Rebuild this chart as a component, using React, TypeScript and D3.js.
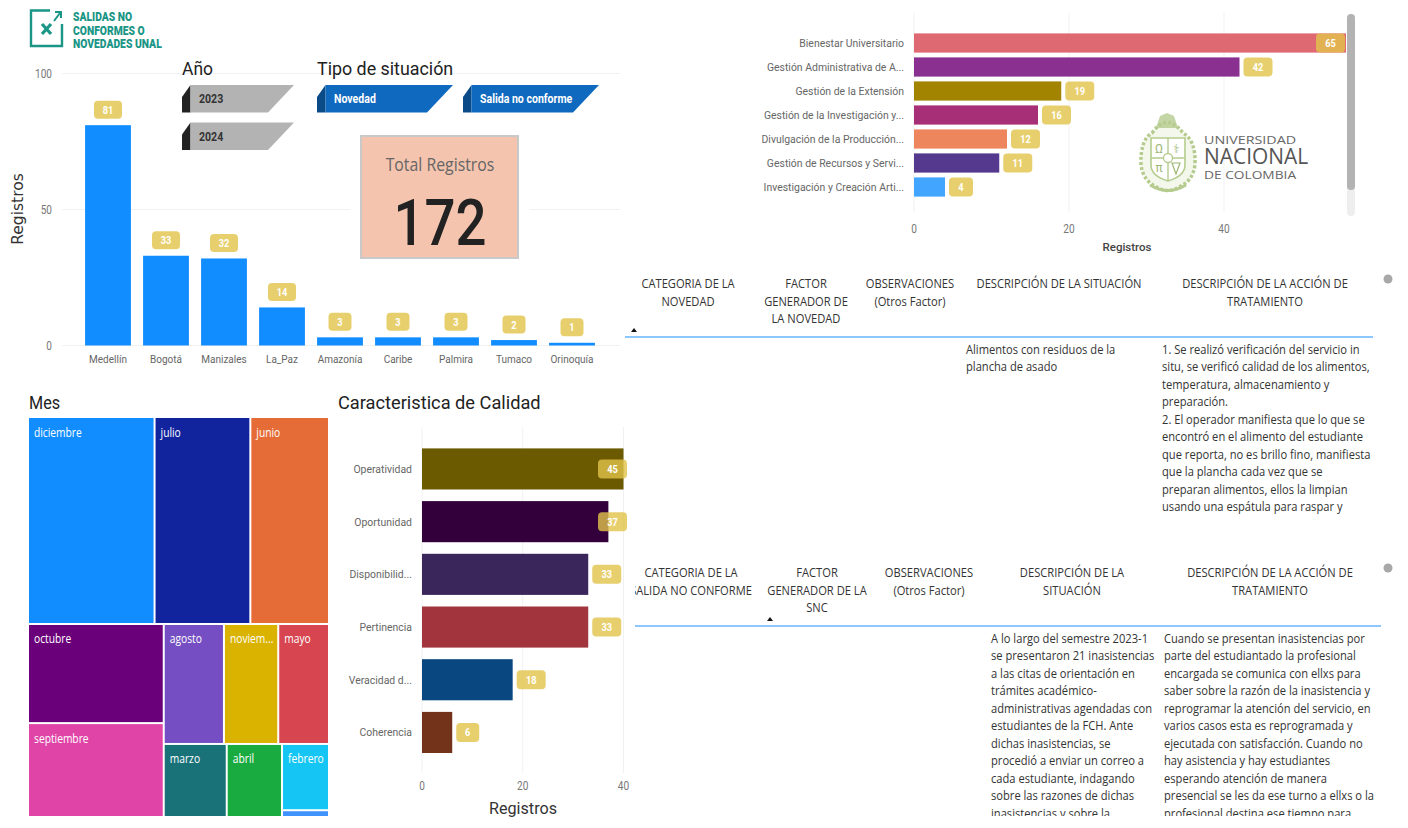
import React from "react";
import * as d3 from "d3";

const sedes = ["Medellín", "Bogotá", "Manizales", "La_Paz", "Amazonía", "Caribe", "Palmira", "Tumaco", "Orinoquía"];
const sedeValues = [81, 33, 32, 14, 3, 3, 3, 2, 1];
const sedeTicks = [0, 50, 100];

const procesos = ["Bienestar Universitario", "Gestión Administrativa de A...", "Gestión de la Extensión", "Gestión de la Investigación y...", "Divulgación de la Producción...", "Gestión de Recursos y Servi...", "Investigación y Creación Arti..."];
const procesoValues = [65, 42, 19, 16, 12, 11, 4];
const procesoColors = ["#DF6973", "#8A3090", "#A38400", "#A72F78", "#EE865D", "#55398F", "#42A5FF"];
const procesoTicks = [0, 20, 40];

const calidad = ["Operatividad", "Oportunidad", "Disponibilid...", "Pertinencia", "Veracidad d...", "Coherencia"];
const calidadValues = [45, 37, 33, 33, 18, 6];
const calidadColors = ["#6B5A00", "#34003C", "#3B265C", "#A1343C", "#094780", "#73331B"];
const calidadTicks = [0, 20, 40];

const meses = ["diciembre", "julio", "junio", "octubre", "septiembre", "agosto", "noviem...", "mayo", "marzo", "abril", "febrero", "enero"];
const mesValues = [37, 28, 23, 19, 18, 10.2, 9.2, 8.6, 6.5, 5.7, 4.4, 0.45];
const mesColors = ["#118DFF", "#12239E", "#E66C37", "#6B007B", "#E044A7", "#744EC2", "#D9B300", "#D64550", "#197278", "#1AAB40", "#15C6F4", "#4092FF"];

const anos = ["2023", "2024"];
const tipos = ["Novedad", "Salida no conforme"];

const tabla1Head = [["CATEGORIA DE LA", "NOVEDAD"], ["FACTOR", "GENERADOR DE", "LA NOVEDAD"], ["OBSERVACIONES", "(Otros Factor)"], ["DESCRIPCIÓN DE LA SITUACIÓN"], ["DESCRIPCIÓN DE LA ACCIÓN DE", "TRATAMIENTO"]];
const tabla1Sit = ["Alimentos con residuos de la", "plancha de asado"];
const tabla1Acc = ["1. Se realizó verificación del servicio in", "situ, se verificó calidad de los alimentos,", "temperatura, almacenamiento y", "preparación.", "2. El operador manifiesta que lo que se", "encontró en el alimento del estudiante", "que reporta, no es brillo fino, manifiesta", "que la plancha cada vez que se", "preparan alimentos, ellos la limpian", "usando una espátula para raspar y"];
const tabla2Head = [["CATEGORIA DE LA", "SALIDA NO CONFORME"], ["FACTOR", "GENERADOR DE LA", "SNC"], ["OBSERVACIONES", "(Otros Factor)"], ["DESCRIPCIÓN DE LA", "SITUACIÓN"], ["DESCRIPCIÓN DE LA ACCIÓN DE", "TRATAMIENTO"]];
const tabla2Sit = ["A lo largo del semestre 2023-1", "se presentaron 21 inasistencias", "a las citas de orientación en", "trámites académico-", "administrativas agendadas con", "estudiantes de la FCH. Ante", "dichas inasistencias, se", "procedió a enviar un correo a", "cada estudiante, indagando", "sobre las razones de dichas", "inasistencias y sobre la"];
const tabla2Acc = ["Cuando se presentan inasistencias por", "parte del estudiantado la profesional", "encargada se comunica con ellxs para", "saber sobre la razón de la inasistencia y", "reprogramar la atención del servicio, en", "varios casos esta es reprogramada y", "ejecutada con satisfacción. Cuando no", "hay asistencia y hay estudiantes", "esperando atención de manera", "presencial se les da ese turno a ellxs o la", "profesional destina ese tiempo para"];

const DIN = "Roboto, sans-serif";
const SEGOE = "'Open Sans', sans-serif";
const GRID = "#F1F1F1";
const TICK = "#777";
const PILL = "#E2C34A";

type TP = { x: number; y: number; sx?: number; a?: string; s: number; w?: number; f?: string; ff?: string; children: any; rot?: number };
const T = ({ x, y, sx = 0.84, a = "start", s, w = 400, f = "#333", ff = DIN, children, rot }: TP) => (
  <text transform={`translate(${x},${y})${rot ? ` rotate(${rot})` : ""} scale(${sx},1)`} textAnchor={a} fontSize={s} fontWeight={w} fill={f} fontFamily={ff}>
    {children}
  </text>
);

const Pill = ({ x, y, w, h = 18, v, s = 11 }: { x: number; y: number; w: number; h?: number; v: number; s?: number }) => (
  <g>
    <rect x={x} y={y} width={w} height={h} rx={4} fill={PILL} fillOpacity={0.8} />
    <T x={x + w / 2} y={y + h / 2 + 4} a="middle" s={s} w={700} f="#fff">{v}</T>
  </g>
);

function SedeChart() {
  const x = d3.scaleBand<string>().domain(sedes).range([79, 601]).paddingInner(0.21).paddingOuter(0.105);
  const y = d3.scaleLinear().domain([0, 100]).range([345.5, 73.5]);
  return (
    <g>
      {sedeTicks.map((t) => (
        <g key={t}>
          <line x1={62} x2={620} y1={y(t)} y2={y(t)} stroke={GRID} />
          <T x={52} y={y(t) + 4} a="end" s={12} f={TICK}>{t}</T>
        </g>
      ))}
      <T x={22.5} y={209} rot={-90} a="middle" s={15.5} sx={1} f="#333" ff="'DejaVu Sans', sans-serif">Registros</T>
      {sedes.map((c, i) => {
        const v = sedeValues[i];
        const cx = x(c)! + x.bandwidth() / 2;
        const w = v >= 10 ? 28 : 23;
        return (
          <g key={c}>
            <rect x={x(c)} y={y(v)} width={x.bandwidth()} height={y(0) - y(v)} fill="#118DFF" />
            <Pill x={cx - w / 2} y={y(v) - 24.5} w={w} v={v} />
            <T x={cx} y={363} a="middle" s={11} f="#666" sx={0.91}>{c}</T>
          </g>
        );
      })}
    </g>
  );
}

function ProcesoChart() {
  const x = d3.scaleLinear().domain([0, 40]).range([914, 1224]);
  const y = d3.scaleBand<string>().domain(procesos).range([31, 199]).paddingInner(0.2).paddingOuter(0.1);
  return (
    <g>
      <clipPath id="pc"><rect x={900} y={0} width={446} height={230} /></clipPath>
      {procesoTicks.map((t) => (
        <g key={t}>
          <line x1={x(t)} x2={x(t)} y1={13} y2={212} stroke={GRID} />
          <T x={x(t)} y={233} a="middle" s={12} f={TICK}>{t}</T>
        </g>
      ))}
      <T x={1127} y={251} a="middle" s={11.5} w={500} f="#444" sx={1}>Registros</T>
      <g clipPath="url(#pc)">
        {procesos.map((c, i) => (
          <rect key={c} x={x(0)} y={y(c)} width={x(procesoValues[i]) - x(0)} height={y.bandwidth()} fill={procesoColors[i]} />
        ))}
      </g>
      {procesos.map((c, i) => {
        const v = procesoValues[i];
        const w = v >= 10 ? 29 : 24;
        const px = Math.min(x(v) + 4, 1345 - w);
        return (
          <g key={c}>
            <T x={904} y={y(c)! + y.bandwidth() / 2 + 4} a="end" s={11} f="#666" sx={0.95}>{c}</T>
            <Pill x={px} y={y(c)! + y.bandwidth() / 2 - 9.5} w={w} h={19} v={v} />
          </g>
        );
      })}
      <rect x={1347} y={14} width={8} height={202} rx={4} fill="#EEE" />
      <rect x={1347} y={14} width={8} height={176} rx={4} fill="#B3B3B3" />
    </g>
  );
}

function CalidadChart() {
  const x = d3.scaleLinear().domain([0, 40]).range([422, 623.5]);
  const y = d3.scaleBand<string>().domain(calidad).range([442.6, 758.8]).paddingInner(0.22).paddingOuter(0.11);
  return (
    <g>
      <clipPath id="cc"><rect x={410} y={420} width={213.5} height={360} /></clipPath>
      {calidadTicks.map((t) => (
        <g key={t}>
          <line x1={x(t)} x2={x(t)} y1={427} y2={773} stroke={GRID} />
          <T x={x(t)} y={790} a="middle" s={12} f={TICK}>{t}</T>
        </g>
      ))}
      <T x={523} y={814} a="middle" s={17} f="#333" sx={0.95}>Registros</T>
      <g clipPath="url(#cc)">
        {calidad.map((c, i) => (
          <rect key={c} x={x(0)} y={y(c)} width={x(calidadValues[i]) - x(0)} height={y.bandwidth()} fill={calidadColors[i]} />
        ))}
      </g>
      {calidad.map((c, i) => {
        const v = calidadValues[i];
        const w = v >= 10 ? 29 : 23;
        const px = Math.min(x(v) + 4, 627 - w);
        const cy = y(c)! + y.bandwidth() / 2;
        return (
          <g key={c}>
            <T x={412} y={cy + 4} a="end" s={11} f="#666" sx={0.95}>{c}</T>
            <Pill x={px} y={cy - 9.5} w={w} h={19} v={v} />
          </g>
        );
      })}
    </g>
  );
}

type Node = { name?: string; dir?: "h" | "v"; children?: Node[]; value?: number };
const leaf = (n: string): Node => ({ name: n, value: mesValues[meses.indexOf(n)] });

function Treemap() {
  const tree: Node = {
    dir: "v",
    children: [
      { dir: "h", children: [leaf("diciembre"), leaf("julio"), leaf("junio")] },
      {
        dir: "h",
        children: [
          { dir: "v", children: [leaf("octubre"), leaf("septiembre")] },
          {
            dir: "v",
            children: [
              { dir: "h", children: [leaf("agosto"), leaf("noviem..."), leaf("mayo")] },
              { dir: "h", children: [leaf("marzo"), leaf("abril"), { dir: "v", children: [leaf("febrero"), leaf("enero")] }] },
            ],
          },
        ],
      },
    ],
  };
  const root = d3.hierarchy<Node>(tree).sum((d) => d.value ?? 0);
  d3
    .treemap<Node>()
    .tile((node: any, x0, y0, x1, y1) => (node.data.dir === "v" ? d3.treemapSlice : d3.treemapDice)(node, x0, y0, x1, y1))
    .size([299, 398])
    .paddingInner(2)(root);
  return (
    <g transform="translate(29,418)">
      {(root.leaves() as any[]).map((l) => {
        const i = meses.indexOf(l.data.name);
        return (
          <g key={l.data.name}>
            <rect x={l.x0} y={l.y0} width={l.x1 - l.x0} height={l.y1 - l.y0} fill={mesColors[i]} />
            {l.data.name !== "enero" && (
              <T x={l.x0 + 5} y={l.y0 + 18.5} s={12.5} f="#fff" ff={SEGOE} sx={0.82}>{l.data.name}</T>
            )}
          </g>
        );
      })}
    </g>
  );
}

function Slicer({ x, y, w, label, body, dark, fg }: { x: number; y: number; w: number; label: string; body: string; dark: string; fg: string }) {
  const h = 27.5;
  return (
    <g>
      <polygon points={`${x},${y + 12} ${x + 8.5},${y} ${x + 8.5},${y + h} ${x},${y + h}`} fill={dark} />
      <polygon points={`${x + 8.5},${y} ${x + w},${y} ${x + w - 26},${y + h} ${x + 8.5},${y + h}`} fill={body} />
      <T x={x + 17} y={y + 18} s={12} w={700} f={fg} sx={0.88}>{label}</T>
    </g>
  );
}

function TeamLogo() {
  return (
    <g>
      <path d="M50,10.5 H31 V46 H62 V24" fill="none" stroke="#1A9586" strokeWidth={2.4} />
      <path d="M42,24 L51,34 M51,24 L42,34" stroke="#1A9586" strokeWidth={3.2} />
      <path d="M54,21 L60,13 M55,12 H61 V18" fill="none" stroke="#1A9586" strokeWidth={2} />
      <T x={73} y={21} s={12} w={900} f="#1A9586" sx={0.86}>SALIDAS NO</T>
      <T x={73} y={34.5} s={12} w={900} f="#1A9586" sx={0.86}>CONFORMES O</T>
      <T x={73} y={48} s={12} w={900} f="#1A9586" sx={0.86}>NOVEDADES UNAL</T>
    </g>
  );
}

function UnalLogo() {
  const g = "#B5CC8E";
  return (
    <g>
      <path d="M1152,133 Q1167,112 1183,133 Q1196,140 1195,165 Q1193,180 1181,186 Q1168,195 1155,186 Q1143,180 1141,165 Q1140,140 1152,133 Z" fill="#F4F8EC" stroke={g} strokeWidth={3.5} strokeDasharray="3 2" />
      <path d="M1160,116 L1167,113 L1174,116 L1178,128 H1156 Z" fill={g} opacity={0.8} />
      <path d="M1151,138 H1185 V165 Q1185,176 1168,181 Q1151,176 1151,165 Z" fill="#fff" stroke={g} strokeWidth={1.6} />
      <path d="M1168,138 V181 M1151,158 H1185" stroke={g} strokeWidth={1.4} />
      <circle cx={1168} cy={158} r={4.5} fill="#fff" stroke={g} strokeWidth={1.3} />
      <path d="M1150,185 Q1168,196 1186,185" fill="none" stroke={g} strokeWidth={3} />
      <T x={1159} y={153} a="middle" s={12} f="#9DB873" sx={1}>Ω</T>
      <T x={1176} y={153} a="middle" s={12} f="#9DB873" sx={1}>⚕</T>
      <T x={1159} y={172} a="middle" s={12} f="#9DB873" sx={1}>π</T>
      <path d="M1172,163 L1180,163 L1176,174 Z" fill="none" stroke="#9DB873" strokeWidth={1.2} />
      <T x={1204} y={144} s={11} w={500} f="#666" sx={1.3} ff={SEGOE}>UNIVERSIDAD</T>
      <T x={1204} y={164} s={22.5} w={400} f="#555" sx={0.93} ff={SEGOE}>NACIONAL</T>
      <T x={1204} y={179} s={11} w={500} f="#666" sx={1.25} ff={SEGOE}>DE COLOMBIA</T>
    </g>
  );
}

function Table({ head, centers, lineTop, ruleY, ruleX, arrowX, sit, acc, sitX, accX, clipId, clipX, clipBottom }: any) {
  const lh = 17.55;
  const sx = 0.93;
  return (
    <g>
      <clipPath id={clipId}><rect x={clipX} y={lineTop - 15} width={800} height={clipBottom - lineTop + 15} /></clipPath>
      <g clipPath={`url(#${clipId})`}>
        {head.map((lines: string[], i: number) =>
          lines.map((l, j) => (
            <T key={l + j} x={centers[i]} y={lineTop + j * 17.5} a="middle" s={12} f="#333" ff={SEGOE} sx={sx}>{l}</T>
          ))
        )}
        {sit.map((l: string, i: number) => (
          <T key={l} x={sitX} y={lineTop + 65.5 + i * lh} s={12} f="#333" ff={SEGOE} sx={sx}>{l}</T>
        ))}
        {acc.map((l: string, i: number) => (
          <T key={l} x={accX} y={lineTop + 65.5 + i * lh} s={12} f="#333" ff={SEGOE} sx={sx}>{l}</T>
        ))}
      </g>
      <path d={`M${arrowX - 3},${ruleY - 5} h6 l-3,-4 z`} fill="#111" />
      <line x1={ruleX[0]} x2={ruleX[1]} y1={ruleY} y2={ruleY} stroke="#8CC8FF" strokeWidth={1.8} />
    </g>
  );
}

export default function App() {
  return (
    <svg width={1408} height={828} style={{ position: "absolute", left: 0, top: 0, background: "#fff", display: "block" }}>
      <TeamLogo />
      <SedeChart />
      <T x={182} y={75} s={19} f="#222" sx={0.92}>Año</T>
      <T x={317} y={75} s={19} f="#222" sx={0.94}>Tipo de situación</T>
      {anos.map((a, i) => (
        <Slicer key={a} x={182} y={85 + i * 37.5} w={112} label={a} body="#B3B3B3" dark="#222" fg="#333" />
      ))}
      {tipos.map((t, i) => (
        <Slicer key={t} x={317 + i * 146} y={85} w={136} label={t} body="#0F69BE" dark="#0A4A87" fg="#fff" />
      ))}
      <rect x={350} y={125} width={180} height={145} fill="#fff" />
      <rect x={361} y={136} width={157} height={122} fill="#F4C4AE" stroke="#C9C9C9" strokeWidth={2} />
      <T x={440} y={171} a="middle" s={18} f="#666" ff={SEGOE} sx={0.88}>Total Registros</T>
      <T x={440} y={245} a="middle" s={65} w={500} f="#222" sx={0.84}>172</T>

      <T x={29} y={409} s={18} f="#222" sx={0.9}>Mes</T>
      <Treemap />
      <T x={338} y={409} s={19} f="#222" sx={0.96}>Caracteristica de Calidad</T>
      <CalidadChart />

      <ProcesoChart />
      <UnalLogo />

      <Table head={tabla1Head} centers={[688, 806, 910, 1059, 1265]} lineTop={288} ruleY={337} ruleX={[625, 1373]} arrowX={634} sit={tabla1Sit} acc={tabla1Acc} sitX={966} accX={1162} clipId="t1" clipX={625} clipBottom={520} />
      <circle cx={1388} cy={279} r={4.5} fill="#A8A8A8" />

      <Table head={tabla2Head} centers={[691, 817, 929, 1072, 1270]} lineTop={577} ruleY={626} ruleX={[635, 1381]} arrowX={770} sit={tabla2Sit} acc={tabla2Acc} sitX={991} accX={1164} clipId="t2" clipX={635} clipBottom={816} />
      <circle cx={1388} cy={568} r={4.5} fill="#A8A8A8" />
    </svg>
  );
}
